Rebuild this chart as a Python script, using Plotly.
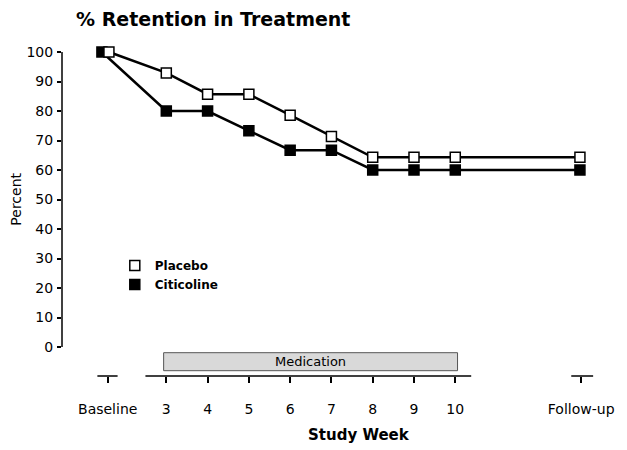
import plotly.graph_objects as go

# ---- data ----
week_labels = ["Baseline", "3", "4", "5", "6", "7", "8", "9", "10", "Follow-up"]
week_pos = [1.58, 3, 4, 5, 6, 7, 8, 9, 10, 13.05]
placebo = [100, 92.9, 85.7, 85.7, 78.6, 71.4, 64.3, 64.3, 64.3, 64.3]
citicoline = [100, 80.0, 80.0, 73.3, 66.7, 66.7, 60.0, 60.0, 60.0, 60.0]
y_ticks = list(range(0, 101, 10))

# small horizontal offsets at the baseline point (markers overlap side by side)
placebo_x = [week_pos[0] + 0.03] + week_pos[1:-1] + [week_pos[-1] - 0.03]
citicoline_x = [week_pos[0] - 0.14] + week_pos[1:-1] + [week_pos[-1] - 0.03]

FONT = "DejaVu Sans"
# the page body has an 8px margin; the figure is sized to fill the rest
W, H, OFF = 619, 442, 8

fig = go.Figure()

fig.add_trace(go.Scatter(
    x=citicoline_x, y=citicoline, mode="lines+markers", showlegend=False,
    line=dict(color="black", width=2.5),
    marker=dict(symbol="square", size=10, color="black",
                line=dict(color="black", width=1.5)),
    cliponaxis=False,
))
fig.add_trace(go.Scatter(
    x=placebo_x, y=placebo, mode="lines+markers", showlegend=False,
    line=dict(color="black", width=2.5),
    marker=dict(symbol="square", size=10, color="white",
                line=dict(color="black", width=1.5)),
    cliponaxis=False,
))
# legend entries (markers only)
fig.add_trace(go.Scatter(
    x=[None], y=[None], mode="markers", name="Placebo",
    marker=dict(symbol="square", size=10, color="white",
                line=dict(color="black", width=1.5)),
))
fig.add_trace(go.Scatter(
    x=[None], y=[None], mode="markers", name="Citicoline",
    marker=dict(symbol="square", size=10, color="black",
                line=dict(color="black", width=1.5)),
))

shapes = []
# y axis line (0..100 only)
shapes.append(dict(type="line", xref="paper", yref="y", x0=0, x1=0, y0=0, y1=100,
                   line=dict(color="black", width=1.5)))
# broken x axis line segments
for a, b in [(1.33, 1.82), (2.494, 10.386), (12.81, 13.34)]:
    shapes.append(dict(type="line", xref="x", yref="paper", x0=a, x1=b, y0=0, y1=0,
                       line=dict(color="black", width=1.5)))
# medication bar
shapes.append(dict(type="rect", xref="x", yref="y", x0=2.935, x1=10.055, y0=-8.03, y1=-1.93,
                   fillcolor="#d9d9d9", line=dict(color="#555555", width=1)))

annotations = [
    dict(text="Medication", x=6.5, y=-4.98, xref="x", yref="y", showarrow=False,
         font=dict(family=FONT, size=13, color="black"), xanchor="center", yanchor="middle"),
    dict(text="Percent", x=(15 - 62) / 548, y=50, xref="paper", yref="y", showarrow=False,
         textangle=-90, font=dict(family=FONT, size=14, color="black"),
         xanchor="center", yanchor="middle"),
    dict(text="Study Week", x=7.67, y=-0.1756, xref="x", yref="paper", showarrow=False,
         font=dict(family=FONT, size=15, color="black", weight="bold"),
         xanchor="center", yanchor="middle"),
]

fig.update_layout(
    width=W, height=H,
    margin=dict(l=62 - OFF, r=17, t=40 - OFF, b=74),
    paper_bgcolor="white", plot_bgcolor="white",
    title=dict(text="% Retention in Treatment", x=(76 - OFF) / W, xanchor="left",
               y=1 - (19.5 - OFF) / H, yanchor="middle", xref="container", yref="container",
               font=dict(family=FONT, size=19, color="black", weight="bold")),
    xaxis=dict(range=[0.473, 13.70], showgrid=False, zeroline=False, showline=False,
               tickvals=week_pos, ticktext=week_labels, ticks="outside", ticklen=6,
               tickwidth=1.5, tickcolor="black", ticklabelstandoff=14,
               tickfont=dict(family=FONT, size=14, color="black")),
    yaxis=dict(range=[-9.83, 104.07], showgrid=False, zeroline=False, showline=False,
               tickvals=y_ticks, ticks="outside", ticklen=4, tickwidth=1.5,
               tickcolor="black", ticklabelstandoff=1,
               tickfont=dict(family=FONT, size=14, color="black")),
    legend=dict(x=0.0967, y=0.372, xanchor="left", yanchor="top",
                font=dict(family=FONT, size=12, color="black", weight="bold"),
                bgcolor="rgba(0,0,0,0)", tracegroupgap=0),
    shapes=shapes, annotations=annotations,
    showlegend=True,
)

fig.write_html("out.html")
